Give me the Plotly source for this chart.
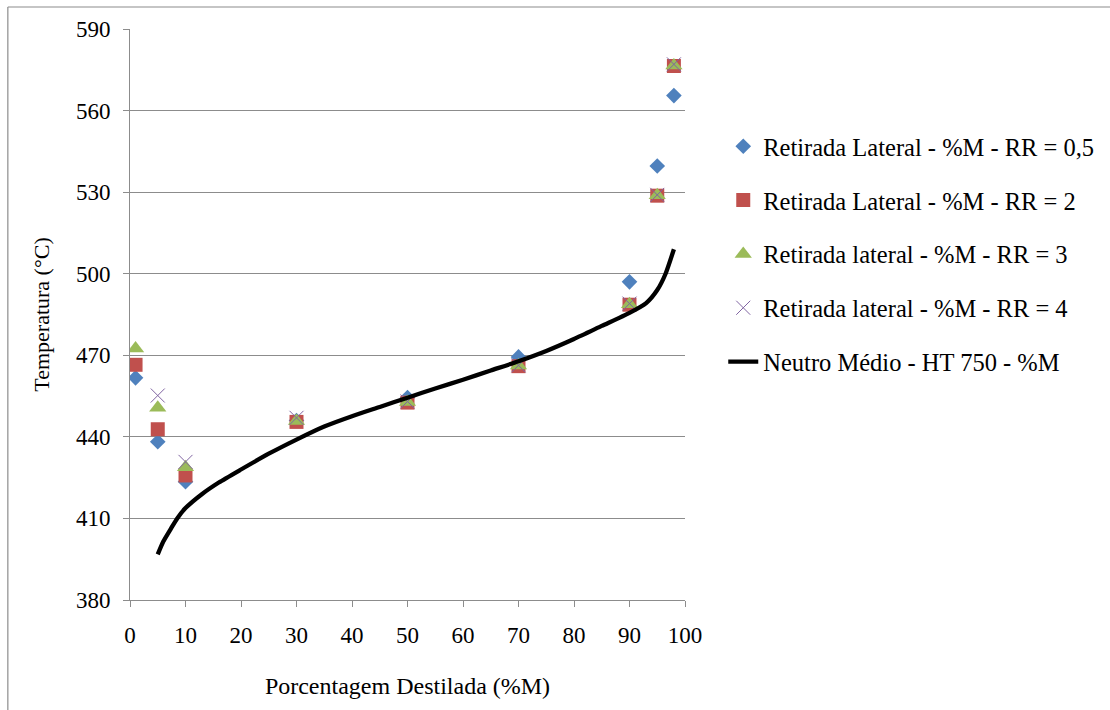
import plotly.graph_objects as go

# Percent distilled (%M) at each side-draw cut
cortes = [1, 5, 10, 30, 50, 70, 90, 95, 98]
cortes_rr4 = [5, 10, 30, 50, 70, 90, 95, 98]

temp_rr05 = [461.7, 438.2, 423.5, 446.0, 454.5, 469.4, 497.0, 539.6, 565.5]
temp_rr2 = [466.5, 442.8, 425.8, 445.5, 452.6, 466.0, 488.6, 528.7, 576.4]
temp_rr3 = [472.5, 450.7, 428.8, 445.8, 452.8, 466.2, 488.8, 528.9, 576.6]
temp_rr4 = [455.2, 430.8, 447.0, 453.0, 466.3, 489.0, 529.0, 577.0]

# Reference curve: Neutro Médio - HT 750
ht_x = [5, 6, 7.3, 8.5, 10, 13, 16, 20, 25, 30, 35, 40, 45, 50, 55, 60,
        65, 70, 75, 80, 85, 90, 93, 95, 96.5, 98]
ht_y = [396.8, 401.5, 406.0, 410.0, 413.8, 419.0, 423.2, 428.0, 433.8, 439.0,
        443.8, 447.6, 451.0, 454.4, 457.8, 461.0, 464.4, 467.8, 471.6, 476.0,
        480.8, 485.6, 489.2, 494.0, 500.0, 509.0]

y_ticks = [380, 410, 440, 470, 500, 530, 560, 590]
x_ticks = [0, 10, 20, 30, 40, 50, 60, 70, 80, 90, 100]

serif = '"Liberation Serif", "Times New Roman", Times, "DejaVu Serif", serif'
grid = "#8c8c8c"

fig = go.Figure()

series = [
    ("Retirada Lateral - %M - RR = 0,5", cortes, temp_rr05,
     dict(symbol="diamond", size=12, color="#4F81BD")),
    ("Retirada Lateral - %M - RR = 2", cortes, temp_rr2,
     dict(symbol="square", size=14, color="#C0504D")),
    ("Retirada lateral - %M - RR = 3", cortes, temp_rr3,
     dict(symbol="triangle-up", size=15, color="#9BBB59")),
    ("Retirada lateral - %M - RR = 4", cortes_rr4, temp_rr4,
     dict(symbol="x-thin", size=14, color="#8064A2",
          line=dict(color="#8064A2", width=1))),
]
for name, xs, ys, mk in series:
    fig.add_trace(go.Scatter(x=xs, y=ys, mode="markers", name=name,
                             marker=mk, legendgroup=name))

fig.add_trace(go.Scatter(x=ht_x, y=ht_y, mode="lines",
                         name="Neutro Médio - HT 750 - %M",
                         line=dict(color="black", width=4.3, shape="spline",
                                   smoothing=0.6),
                         legendgroup="ht"))

fig.update_layout(
    width=1110, height=710,
    margin=dict(l=129.5, r=424, t=29, b=110),
    paper_bgcolor="white", plot_bgcolor="white",
    font=dict(family=serif, size=24, color="black"),
    showlegend=True,
    legend=dict(x=1.067, y=0.834, xanchor="left", yanchor="top",
                traceorder="grouped", tracegroupgap=19,
                font=dict(family=serif, size=24.5, color="black"),
                bgcolor="rgba(0,0,0,0)"),
    xaxis=dict(range=[0, 100], tickvals=x_ticks, showgrid=False,
               showline=True, linecolor=grid, linewidth=1,
               ticks="outside", ticklen=6, tickcolor=grid,
               ticklabelstandoff=8, zeroline=False,
               tickfont=dict(family=serif, size=23, color="black"),
               title=dict(text="Porcentagem Destilada (%M)", standoff=30,
                          font=dict(family=serif, size=24, color="black"))),
    yaxis=dict(range=[380, 590], tickvals=y_ticks,
               showgrid=True, gridcolor=grid, gridwidth=1,
               showline=True, linecolor=grid, linewidth=1,
               ticks="outside", ticklen=6, tickcolor=grid,
               ticklabelstandoff=8, zeroline=False,
               tickfont=dict(family=serif, size=23, color="black"),
               title=dict(text="Temperatura (°C)", standoff=20,
                          font=dict(family=serif, size=22, color="black"))),
)

# chart frame (left and top edges)
fig.add_shape(type="line", xref="paper", yref="paper",
              x0=-0.2201, x1=-0.2201, y0=-0.25, y1=1.0385,
              line=dict(color="#8c8c8c", width=1.2))
fig.add_shape(type="line", xref="paper", yref="paper",
              x0=-0.2201, x1=1.8, y0=1.0385, y1=1.0385,
              line=dict(color="#8c8c8c", width=1.2))

fig.write_html("out.html")
